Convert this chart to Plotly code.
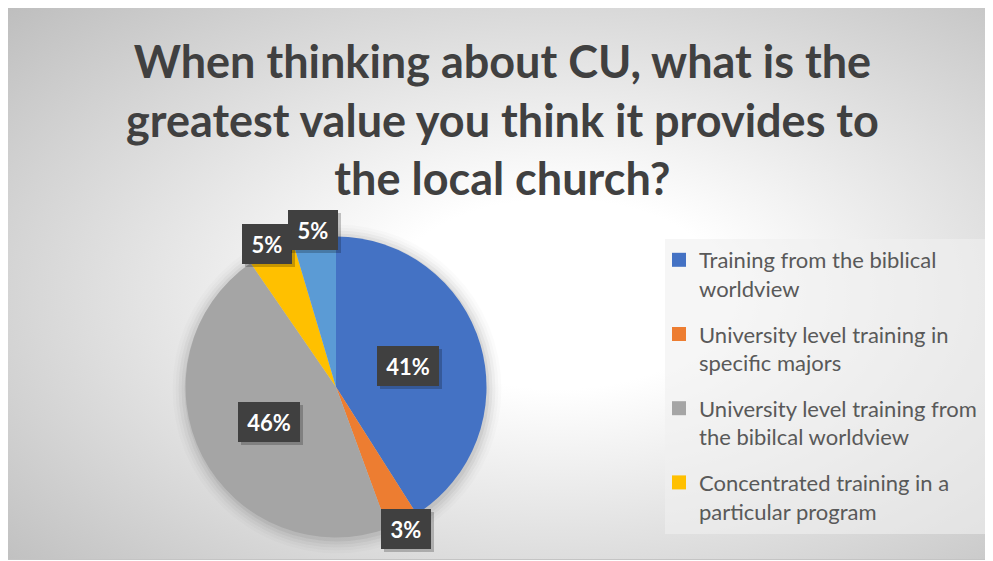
import base64
import math
import plotly.graph_objects as go

# ---------------- data ----------------
categories = [
    "Training from the biblical worldview",
    "University level training in specific majors",
    "University level training from the bibilcal worldview",
    "Concentrated training in a particular program",
    "Other",
]
legend_labels = [
    "Training from the biblical<br>worldview",
    "University level training in<br>specific majors",
    "University level training from<br>the bibilcal worldview",
    "Concentrated training in a<br>particular program",
]
values = [41, 3.4, 46, 5, 4.6]
colors = ["#4472C4", "#ED7D31", "#A5A5A5", "#FFC000", "#5B9BD5"]
title_text = ("When thinking about CU, what is the<br>"
              "greatest value you think it provides to<br>"
              "the local church?")

# ---------------- layout constants ----------------
OFF = 8                      # page body margin
W, H = 993 - OFF, 561 - OFF  # figure size
CX, CY, R = 336, 387, 150.5  # pie centre / radius in page pixels
FONT = "Lato, 'Open Sans', sans-serif"


def px(x):
    return (x - OFF) / W


def py(y):
    return 1 - (y - OFF) / H


fig = go.Figure()

fig.add_trace(go.Pie(
    labels=categories,
    values=values,
    sort=False,
    direction="clockwise",
    rotation=0,
    marker=dict(colors=colors, line=dict(width=0)),
    textinfo="none",
    hoverinfo="label+percent",
    showlegend=False,
    domain=dict(x=[px(CX - R), px(CX + R)], y=[py(CY + R), py(CY - R)]),
))

# legend entries (Excel legend shows the first four categories)
for lab, col in zip(legend_labels, colors[:4]):
    fig.add_trace(go.Scatter(
        x=[None], y=[None], mode="markers", name=lab, legendgroup=lab,
        marker=dict(symbol="square", size=14, color=col),
        hoverinfo="skip",
    ))

# data labels (boxes) placed along each slice's mid angle
total = sum(values)
cum = 0
anns = []
for v in values:
    frac = v / total
    mid = (cum + frac / 2) * 2 * math.pi
    cum += frac
    rr = 0.5 * R if frac >= 0.10 else 1.055 * R
    x = CX + rr * math.sin(mid)
    y = CY - rr * math.cos(mid)
    txt = f"{round(frac * 100)}%"
    w = 62 if len(txt) >= 3 else 50
    common = dict(xref="paper", yref="paper", x=px(x), y=py(y),
                  xanchor="center", yanchor="middle", showarrow=False,
                  width=w, height=40, borderpad=0, borderwidth=0)
    anns.append(dict(text=" ", bgcolor="rgba(0,0,0,0.22)", xshift=3, yshift=-3, **common))
    anns.append(dict(text=f"<b>{txt}</b>", bgcolor="#404040",
                     font=dict(family=FONT, size=22, color="white"), **common))

# chart title
anns.append(dict(text=f"<b>{title_text}</b>", xref="paper", yref="paper",
                 x=px(503), y=py(120), xanchor="center", yanchor="middle",
                 showarrow=False, align="center",
                 font=dict(family=FONT, size=45, color="#404040")))

# background gradient (radial, white centre -> grey edges)
svg = """<svg xmlns='http://www.w3.org/2000/svg' width='986' height='554'>
<defs><radialGradient id='g' cx='0.56' cy='0.52' r='0.78'>
<stop offset='0' stop-color='#ffffff'/>
<stop offset='0.22' stop-color='#ffffff'/>
<stop offset='1' stop-color='#bcbcbc'/>
</radialGradient></defs>
<rect x='0.5' y='0.5' width='985' height='553' fill='url(#g)' stroke='#c4c4c4' stroke-width='1'/>
</svg>"""
src = "data:image/svg+xml;base64," + base64.b64encode(svg.encode()).decode()

shapes = []
# soft shadow around the pie
for i, a in enumerate([0.05, 0.04, 0.03, 0.02, 0.015]):
    rr = R + 2 + 3 * i
    shapes.append(dict(type="circle", xref="paper", yref="paper", layer="below",
                       x0=px(CX + 1 - rr), x1=px(CX + 1 + rr),
                       y0=py(CY + 2 + rr), y1=py(CY + 2 - rr),
                       fillcolor=f"rgba(0,0,0,{a})", line=dict(width=0)))
# legend box
shapes.append(dict(type="rect", xref="paper", yref="paper", layer="below",
                   x0=px(665), x1=px(991), y0=py(534), y1=py(239),
                   fillcolor="rgba(240,240,240,0.6)", line=dict(width=0)))

fig.update_layout(
    width=W, height=H,
    margin=dict(l=0, r=0, t=0, b=0),
    paper_bgcolor="white",
    plot_bgcolor="rgba(0,0,0,0)",
    xaxis=dict(visible=False),
    yaxis=dict(visible=False),
    legend=dict(x=px(659), y=py(239), xanchor="left", yanchor="top",
                bgcolor="rgba(0,0,0,0)", valign="top", tracegroupgap=14,
                itemwidth=30,
                font=dict(family=FONT, size=22, color="#595959")),
    images=[dict(source=src, xref="paper", yref="paper", x=px(6), y=py(6),
                 sizex=986 / W, sizey=554 / H, sizing="stretch",
                 xanchor="left", yanchor="top", layer="below")],
    shapes=shapes,
    annotations=anns,
)

fig.write_html("out.html")
